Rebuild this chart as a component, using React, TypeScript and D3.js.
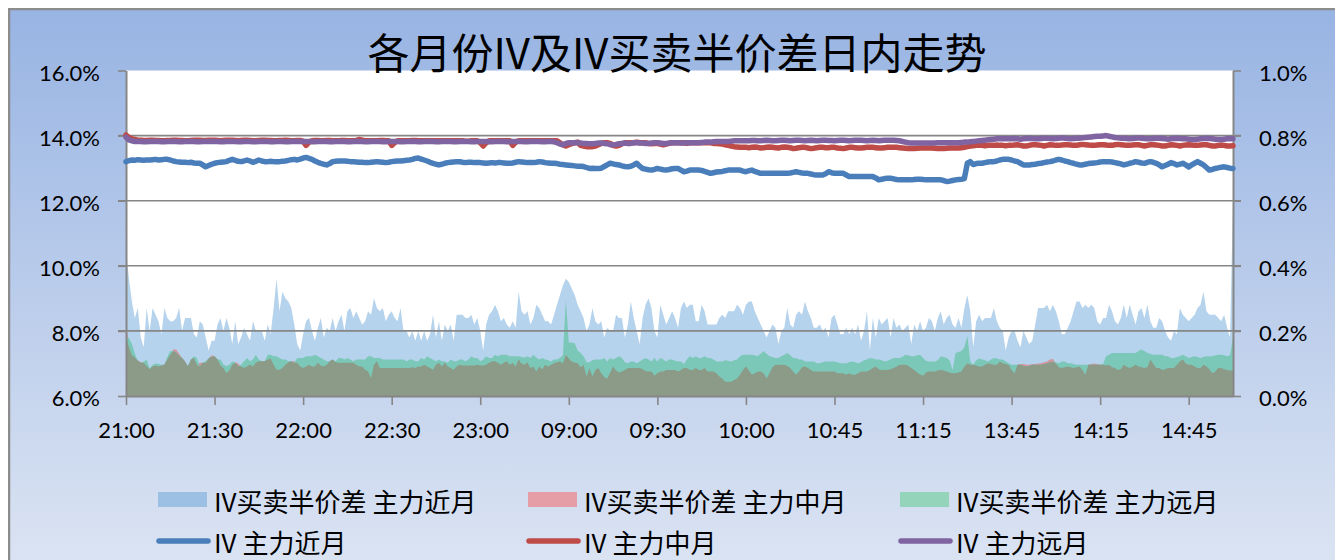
import { useEffect, useRef } from "react";
import * as d3 from "d3";

// trading minutes shown on the category axis (night session + day session)
const sessions: [string, string][] = [
  ["21:00", "23:29"],
  ["09:00", "10:14"],
  ["10:30", "11:29"],
  ["13:30", "15:00"],
];
const tickLabels = ["21:00", "21:30", "22:00", "22:30", "23:00", "09:00", "09:30", "10:00", "10:45", "11:15", "13:45", "14:15", "14:45"];
const leftTicks = [6, 8, 10, 12, 14, 16];
const rightTicks = [0, 0.2, 0.4, 0.6, 0.8, 1.0];

// IV买卖半价差, unit 0.001%
const spreadNear = [
  450,360,290,240,270,180,150,270,200,270,
  250,230,190,270,240,230,230,240,270,200,
  240,240,240,190,180,230,220,180,140,170,
  170,220,240,200,240,210,160,230,160,180,
  210,190,170,230,200,200,200,170,220,190,
  270,360,260,320,300,290,270,220,160,140,
  190,230,240,200,170,210,240,180,210,200,
  240,200,230,250,200,260,270,240,260,240,
  220,230,260,250,300,270,260,270,230,250,
  260,240,230,270,200,200,180,200,170,200,
  170,200,170,190,250,180,230,170,220,200,
  220,170,250,250,250,240,240,250,220,240,
  200,140,220,250,260,280,260,230,240,220,
  210,230,210,320,260,250,260,220,240,280,
  270,250,230,230,220,250,280,310,340,360,
  350,330,310,280,260,240,200,220,270,230,
  220,230,180,210,200,200,250,240,240,180,
  220,290,240,200,160,240,280,300,270,200,
  180,280,250,220,240,260,240,210,270,290,
  270,280,280,230,230,280,260,220,220,220,
  220,240,250,240,260,260,260,280,270,250,
  280,290,290,260,240,220,200,180,200,220,
  210,160,200,210,270,220,210,250,260,250,
  290,260,240,210,210,220,200,210,180,240,
  250,220,190,190,210,190,210,190,220,170,
  200,260,140,240,180,240,220,230,240,180,
  240,210,220,200,210,220,160,220,200,230,
  200,210,240,230,200,240,260,220,240,250,
  220,210,240,210,270,310,260,150,230,250,
  230,240,240,240,270,230,210,200,140,180,
  200,200,170,150,200,180,160,170,220,270,
  270,270,280,260,280,260,230,190,190,210,
  230,260,290,290,270,280,270,280,270,230,
  220,240,240,280,260,230,220,240,280,240,
  280,250,220,260,270,240,280,230,210,210,
  240,230,200,180,170,200,190,270,250,240,
  230,240,250,270,280,320,260,250,250,250,
  240,230,250,210,180,600,
];
const spreadMid = [
  225,150,125,118,110,104,102,92,82,91,
  94,91,94,96,112,127,143,143,130,117,
  107,91,112,117,96,102,102,102,115,125,
  122,112,94,86,71,78,96,104,100,91,
  86,91,96,91,102,107,107,107,112,115,
  96,81,81,86,96,104,107,107,102,91,
  86,91,96,91,91,102,94,91,96,107,
  112,104,102,102,102,102,102,102,96,91,
  91,81,76,55,96,107,86,86,86,86,
  86,86,86,86,86,86,86,88,86,91,
  91,96,91,86,81,96,102,91,102,91,
  86,81,91,96,94,94,94,94,94,96,
  94,94,96,102,107,107,102,96,102,107,
  96,102,91,112,100,96,104,86,91,75,
  91,82,96,90,96,101,104,106,101,127,
  115,106,103,101,88,96,60,85,60,80,
  86,70,58,54,72,91,78,72,75,80,
  86,86,86,86,86,82,77,75,75,62,
  70,75,75,80,80,80,80,75,80,86,
  86,80,80,86,80,80,86,75,75,75,
  70,60,54,44,44,44,49,54,65,80,
  91,78,65,70,75,75,70,54,70,88,
  96,96,96,96,92,86,75,65,75,88,
  91,86,80,75,75,75,75,75,75,75,
  75,70,70,70,65,70,65,65,70,75,
  75,75,80,86,91,82,80,80,80,82,
  86,90,96,96,96,93,86,80,72,66,
  62,72,75,75,75,78,80,78,75,72,
  70,70,72,75,90,101,96,96,94,91,
  91,96,101,98,96,96,106,101,98,96,
  80,70,96,98,98,96,96,98,98,100,
  101,104,106,112,114,100,88,86,88,91,
  88,86,88,91,80,65,96,98,100,98,
  96,96,94,96,88,86,80,82,96,90,
  86,90,96,91,88,86,88,112,98,86,
  86,80,82,86,86,86,96,106,112,100,
  96,96,91,86,86,96,91,82,70,75,
  86,86,82,80,78,78,
];
const spreadFar = [
  180,178,160,130,108,102,105,112,85,95,
  100,98,96,96,120,138,138,134,124,118,
  105,93,112,122,117,91,102,107,117,120,
  122,112,112,97,92,96,107,102,92,96,
  107,117,107,112,127,112,107,107,127,127,
  122,122,117,112,112,107,107,102,117,117,
  117,122,122,122,127,122,117,112,107,107,
  112,107,117,117,112,117,112,107,112,112,
  112,112,122,122,117,117,117,112,112,112,
  112,112,112,112,112,107,112,112,107,107,
  117,112,122,117,112,107,112,107,107,102,
  112,107,107,112,112,107,112,122,117,117,
  107,112,122,117,117,127,122,127,127,127,
  122,122,122,122,120,118,122,117,127,118,
  112,117,112,110,106,112,112,117,125,295,
  164,164,162,140,132,122,104,104,110,112,
  112,112,117,106,117,112,117,122,117,104,
  101,106,106,101,106,112,117,112,106,117,
  106,117,112,106,112,112,108,106,106,98,
  112,122,117,122,117,117,122,117,117,112,
  106,106,106,110,108,106,110,112,122,127,
  127,127,127,125,122,130,138,130,122,120,
  117,117,122,127,132,125,117,117,112,112,
  106,106,106,106,101,101,104,106,106,106,
  106,104,101,101,101,104,106,104,101,104,
  110,112,117,115,112,112,110,106,108,112,
  117,117,117,120,127,125,122,122,125,127,
  117,108,106,106,106,110,122,120,117,110,
  80,132,135,138,150,184,106,96,110,115,
  112,110,106,112,117,115,112,112,106,101,
  96,96,96,96,93,91,93,96,96,96,
  96,98,101,104,106,104,101,106,106,101,
  101,98,96,96,96,96,96,96,96,96,
  96,98,122,127,132,132,132,132,132,132,
  132,132,132,138,143,138,132,130,127,127,
  127,127,122,122,117,117,120,122,127,122,
  117,120,122,120,117,120,122,122,122,125,
  127,127,125,122,125,180,
];

// IV, unit 0.01%
const ivNear = [
  1320,1323,1325,1324,1326,1325,1324,1325,1325,1326,
  1327,1325,1326,1327,1327,1325,1322,1320,1319,1318,
  1318,1317,1318,1316,1315,1315,1310,1304,1308,1312,
  1315,1317,1318,1319,1320,1324,1327,1324,1321,1320,
  1322,1325,1322,1318,1321,1325,1322,1320,1320,1321,
  1320,1320,1320,1321,1322,1324,1326,1327,1325,1328,
  1331,1333,1330,1327,1322,1318,1315,1312,1310,1314,
  1320,1321,1322,1322,1322,1321,1320,1320,1319,1318,
  1318,1317,1317,1318,1319,1320,1319,1318,1317,1318,
  1320,1321,1322,1322,1323,1324,1325,1327,1330,1331,
  1328,1325,1322,1318,1315,1312,1310,1312,1315,1317,
  1318,1319,1320,1320,1318,1317,1318,1318,1317,1317,
  1317,1316,1315,1316,1317,1316,1317,1317,1316,1315,
  1315,1316,1318,1320,1319,1318,1317,1317,1317,1318,
  1320,1319,1317,1316,1315,1315,1314,1312,1311,1310,
  1309,1308,1307,1306,1306,1305,1302,1299,1300,1299,
  1299,1300,1305,1310,1315,1313,1311,1310,1307,1305,
  1304,1306,1310,1315,1306,1299,1297,1295,1294,1296,
  1299,1297,1295,1294,1296,1298,1299,1299,1294,1289,
  1291,1294,1294,1294,1294,1293,1290,1287,1284,1286,
  1288,1289,1290,1292,1294,1294,1294,1294,1294,1291,
  1289,1292,1294,1290,1287,1284,1284,1284,1284,1284,
  1284,1284,1284,1284,1284,1285,1287,1289,1287,1285,
  1284,1284,1282,1280,1279,1279,1279,1283,1289,1286,
  1284,1284,1284,1284,1279,1274,1274,1274,1274,1274,
  1274,1274,1274,1274,1270,1264,1266,1268,1269,1269,
  1267,1265,1264,1264,1264,1264,1264,1265,1266,1266,
  1265,1264,1264,1264,1264,1264,1264,1262,1259,1260,
  1262,1264,1265,1266,1268,1315,1320,1311,1314,1315,
  1315,1317,1319,1320,1320,1322,1325,1327,1327,1327,
  1325,1322,1320,1315,1310,1310,1310,1311,1312,1314,
  1315,1317,1319,1320,1322,1325,1327,1325,1322,1320,
  1317,1315,1312,1310,1310,1312,1314,1315,1316,1317,
  1319,1320,1320,1320,1319,1317,1315,1313,1310,1312,
  1315,1317,1320,1318,1316,1315,1318,1320,1318,1315,
  1310,1304,1308,1312,1317,1314,1310,1312,1315,1310,
  1304,1310,1315,1320,1315,1310,1302,1294,1296,1299,
  1301,1303,1304,1302,1300,1299,
];
const ivMid = [
  1402,1394,1390,1388,1386,1386,1385,1385,1386,1386,
  1385,1385,1384,1384,1385,1385,1386,1386,1385,1385,
  1384,1384,1385,1386,1386,1386,1385,1385,1386,1386,
  1386,1385,1384,1385,1386,1386,1386,1385,1384,1385,
  1386,1386,1385,1384,1384,1385,1386,1386,1385,1385,
  1384,1384,1385,1385,1386,1385,1384,1384,1385,1385,
  1383,1370,1380,1384,1385,1385,1384,1384,1385,1385,
  1384,1384,1384,1385,1385,1384,1384,1384,1385,1388,
  1386,1384,1384,1384,1384,1384,1385,1385,1384,1384,
  1370,1378,1384,1384,1384,1384,1384,1385,1385,1384,
  1384,1384,1384,1384,1384,1384,1384,1384,1384,1384,
  1384,1384,1384,1384,1384,1383,1383,1384,1384,1384,
  1378,1368,1378,1384,1384,1384,1384,1384,1384,1384,
  1384,1370,1380,1384,1384,1384,1384,1384,1384,1384,
  1384,1384,1384,1384,1384,1384,1384,1378,1372,1368,
  1372,1375,1378,1380,1370,1368,1366,1366,1366,1368,
  1372,1376,1378,1378,1376,1370,1368,1370,1375,1378,
  1378,1378,1378,1380,1378,1378,1378,1376,1375,1376,
  1376,1374,1372,1374,1376,1378,1378,1378,1378,1378,
  1376,1378,1378,1378,1378,1378,1378,1378,1378,1376,
  1376,1375,1374,1372,1370,1368,1366,1365,1364,1364,
  1364,1363,1364,1365,1364,1362,1363,1364,1365,1364,
  1363,1362,1364,1365,1364,1363,1360,1361,1363,1364,
  1364,1362,1360,1361,1363,1364,1364,1363,1363,1364,
  1364,1362,1361,1360,1362,1364,1364,1363,1362,1362,
  1363,1364,1364,1364,1363,1362,1362,1363,1364,1364,
  1364,1364,1363,1362,1361,1360,1360,1360,1361,1362,
  1362,1362,1362,1362,1361,1360,1360,1360,1361,1362,
  1362,1362,1362,1363,1364,1366,1368,1369,1370,1370,
  1370,1369,1370,1370,1370,1371,1370,1370,1369,1370,
  1370,1371,1372,1370,1368,1368,1370,1372,1372,1371,
  1370,1368,1370,1372,1371,1370,1370,1371,1372,1372,
  1371,1370,1370,1372,1373,1372,1371,1370,1370,1371,
  1372,1372,1371,1370,1370,1372,1373,1372,1371,1370,
  1370,1371,1372,1372,1370,1368,1370,1372,1372,1371,
  1370,1368,1368,1370,1372,1371,1370,1368,1370,1371,
  1372,1371,1370,1370,1371,1372,1372,1370,1368,1368,
  1370,1371,1370,1368,1368,1369,
];
const ivFar = [
  1395,1387,1384,1382,1382,1382,1381,1381,1382,1382,
  1382,1382,1381,1381,1382,1382,1382,1382,1381,1381,
  1382,1382,1382,1382,1381,1381,1382,1382,1382,1382,
  1382,1382,1381,1381,1382,1382,1382,1382,1381,1381,
  1382,1382,1382,1381,1381,1382,1382,1382,1382,1381,
  1381,1382,1382,1382,1381,1381,1382,1382,1382,1382,
  1382,1382,1382,1381,1381,1382,1382,1382,1382,1381,
  1381,1382,1382,1382,1382,1381,1381,1382,1382,1382,
  1382,1381,1381,1382,1382,1382,1382,1381,1381,1382,
  1382,1382,1382,1381,1381,1382,1382,1382,1382,1381,
  1381,1382,1382,1382,1382,1381,1381,1382,1382,1382,
  1382,1381,1381,1382,1382,1382,1382,1381,1381,1382,
  1382,1382,1382,1381,1381,1382,1382,1382,1382,1381,
  1381,1382,1382,1382,1382,1381,1381,1382,1382,1382,
  1382,1381,1381,1382,1382,1381,1378,1374,1372,1376,
  1378,1378,1378,1378,1377,1376,1376,1375,1375,1376,
  1377,1377,1376,1375,1372,1372,1373,1375,1376,1377,
  1376,1376,1378,1378,1377,1377,1376,1376,1377,1378,
  1378,1377,1376,1376,1377,1378,1378,1378,1377,1377,
  1378,1378,1378,1378,1378,1379,1380,1380,1380,1381,
  1382,1382,1382,1382,1382,1383,1384,1384,1384,1384,
  1384,1384,1385,1385,1384,1384,1385,1386,1385,1384,
  1384,1385,1386,1386,1385,1384,1385,1386,1386,1385,
  1384,1385,1386,1385,1384,1385,1386,1386,1385,1385,
  1384,1385,1386,1386,1385,1384,1385,1386,1386,1386,
  1385,1384,1385,1386,1385,1384,1385,1386,1386,1386,
  1386,1385,1384,1382,1380,1378,1377,1377,1377,1377,
  1377,1377,1377,1377,1377,1378,1378,1378,1378,1378,
  1378,1378,1378,1379,1380,1380,1381,1382,1383,1384,
  1385,1386,1387,1388,1389,1390,1390,1390,1390,1390,
  1390,1391,1390,1389,1390,1391,1392,1391,1390,1390,
  1391,1392,1392,1391,1390,1391,1392,1393,1392,1391,
  1390,1391,1392,1392,1393,1394,1395,1396,1397,1398,
  1398,1399,1400,1398,1396,1394,1393,1392,1392,1391,
  1390,1391,1392,1393,1392,1391,1390,1390,1391,1392,
  1392,1391,1390,1389,1390,1391,1392,1391,1390,1390,
  1389,1388,1388,1389,1390,1391,1392,1391,1390,1389,
  1388,1388,1389,1390,1391,1390,
];

const W = 1331;
const H = 552;
const M = { left: 118, right: 1225, top: 62.5, bottom: 388 };
const AXIS = "#868686";
const NUM_FONT = "Lato, 'Liberation Sans', sans-serif";
const CJK_FONT = "'Noto Sans CJK SC', 'Noto Sans', sans-serif";

const toMin = (s: string) => +s.slice(0, 2) * 60 + +s.slice(3);
const hhmm = (m: number) => `${String(Math.floor(m / 60)).padStart(2, "0")}:${String(m % 60).padStart(2, "0")}`;

const App = () => {
  const ref = useRef<SVGSVGElement>(null);

  useEffect(() => {
    const svg = d3.select(ref.current);
    svg.selectAll("*").remove();

    const times = sessions.flatMap(([a, b]) => d3.range(toMin(a), toMin(b) + 1).map(hhmm));
    const rows = times.map((t, i) => ({
      t,
      sn: spreadNear[i] / 1000,
      sm: spreadMid[i] / 1000,
      sf: spreadFar[i] / 1000,
      vn: ivNear[i] / 100,
      vm: ivMid[i] / 100,
      vf: ivFar[i] / 100,
    }));
    type Row = typeof rows[number];

    const x = d3.scalePoint<string>().domain(times).range([M.left, M.right]);
    const yIV = d3.scaleLinear().domain([6, 16]).range([M.bottom, M.top]);
    const ySp = d3.scaleLinear().domain([0, 1]).range([M.bottom, M.top]);

    // background gradient + frame
    const defs = svg.append("defs");
    const grad = defs.append("linearGradient").attr("id", "bg").attr("x1", 0).attr("y1", 0).attr("x2", 0).attr("y2", 1);
    grad.append("stop").attr("offset", 0).attr("stop-color", "#98b4e3");
    grad.append("stop").attr("offset", 1).attr("stop-color", "#dde5f3");
    svg.append("rect").attr("x", 1).attr("y", 1).attr("width", W - 2).attr("height", H + 20)
      .attr("fill", "url(#bg)").attr("stroke", "#8c8c8c").attr("stroke-width", 2.5);

    // plot area
    svg.append("rect").attr("x", M.left).attr("y", M.top)
      .attr("width", M.right - M.left).attr("height", M.bottom - M.top).attr("fill", "#fff");

    // spread areas (right axis); the darkest band is where all three overlap
    const area = (f: (d: Row) => number) =>
      d3.area<Row>().x(d => x(d.t)!).y0(ySp(0)).y1(d => ySp(f(d)))(rows)!;
    svg.append("path").attr("d", area(d => d.sn)).attr("fill", "#b5d3ec");
    svg.append("path").attr("d", area(d => d.sm)).attr("fill", "#d6949f");
    svg.append("path").attr("d", area(d => d.sf)).attr("fill", "#7cc8b8");
    svg.append("path").attr("d", area(d => Math.min(d.sm, d.sf, d.sn))).attr("fill", "#8c9a88");

    // gridlines
    svg.append("g").selectAll("line").data([8, 10, 12, 14]).join("line")
      .attr("x1", M.left - 8).attr("x2", M.right + 8)
      .attr("y1", d => yIV(d)).attr("y2", d => yIV(d))
      .attr("stroke", AXIS).attr("stroke-width", 1.6);

    // axes
    const styleAxis = (g: d3.Selection<SVGGElement, unknown, null, undefined>) => {
      g.select(".domain").attr("stroke", AXIS).attr("stroke-width", 2);
      g.selectAll(".tick line").attr("stroke", AXIS).attr("stroke-width", 1.6);
      g.selectAll(".tick text").attr("fill", "#000").attr("font-family", NUM_FONT).attr("font-size", 22);
    };
    svg.append("g").attr("transform", `translate(${M.left},0)`)
      .call(d3.axisLeft(yIV).tickValues(leftTicks).tickSize(8).tickSizeOuter(0).tickPadding(18)
        .tickFormat(d => `${(+d).toFixed(1)}%`))
      .call(styleAxis).call(g => g.selectAll(".tick text").attr("dy", "0.45em"));
    svg.append("g").attr("transform", `translate(${M.right},0)`)
      .call(d3.axisRight(ySp).tickValues(rightTicks).tickSize(8).tickSizeOuter(0).tickPadding(18)
        .tickFormat(d => `${(+d).toFixed(1)}%`))
      .call(styleAxis).call(g => g.selectAll(".tick text").attr("dy", "0.45em"));
    svg.append("g").attr("transform", `translate(0,${M.bottom})`)
      .call(d3.axisBottom(x).tickValues(tickLabels).tickSize(9).tickSizeOuter(0).tickPadding(17))
      .call(styleAxis);

    // IV lines (left axis)
    const line = (f: (d: Row) => number) =>
      d3.line<Row>().x(d => x(d.t)!).y(d => yIV(f(d)))(rows)!;
    const lines: [(d: Row) => number, string][] = [
      [d => d.vn, "#4a7ebb"],
      [d => d.vm, "#be4b48"],
      [d => d.vf, "#8064a2"],
    ];
    lines.forEach(([f, c]) => {
      svg.append("path").attr("d", line(f)).attr("fill", "none").attr("stroke", c)
        .attr("stroke-width", 5.5).attr("stroke-linejoin", "round").attr("stroke-linecap", "round");
    });

    // title
    svg.append("text").attr("x", 669).attr("y", 61).attr("text-anchor", "middle")
      .attr("font-family", CJK_FONT).attr("font-size", 42).attr("fill", "#000")
      .text("各月份IV及IV买卖半价差日内走势");

    // legend
    const legendCols = [150, 520, 892];
    const areaLegend = [
      ["IV买卖半价差 主力近月", "#9bc0e4"],
      ["IV买卖半价差 主力中月", "#e69ea6"],
      ["IV买卖半价差 主力远月", "#94d4ba"],
    ];
    const lineLegend = [
      ["IV 主力近月", "#4a7ebb"],
      ["IV 主力中月", "#be4b48"],
      ["IV 主力远月", "#8064a2"],
    ];
    const lg = svg.append("g").attr("font-family", CJK_FONT).attr("font-size", 26);
    areaLegend.forEach(([label, c], i) => {
      const cx = legendCols[i];
      lg.append("rect").attr("x", cx).attr("y", 484).attr("width", 49).attr("height", 15).attr("fill", c);
      lg.append("text").attr("x", cx + 56).attr("y", 492).attr("dominant-baseline", "central")
        .attr("fill", "#000").text(label);
    });
    lineLegend.forEach(([label, c], i) => {
      const cx = legendCols[i];
      lg.append("line").attr("x1", cx + 1).attr("x2", cx + 50).attr("y1", 533).attr("y2", 533)
        .attr("stroke", c).attr("stroke-width", 5.5).attr("stroke-linecap", "round");
      lg.append("text").attr("x", cx + 56).attr("y", 533).attr("dominant-baseline", "central")
        .attr("fill", "#000").text(label);
    });
  }, []);

  return <svg ref={ref} width={W} height={H} style={{ display: "block" }} />;
};

export default App;
